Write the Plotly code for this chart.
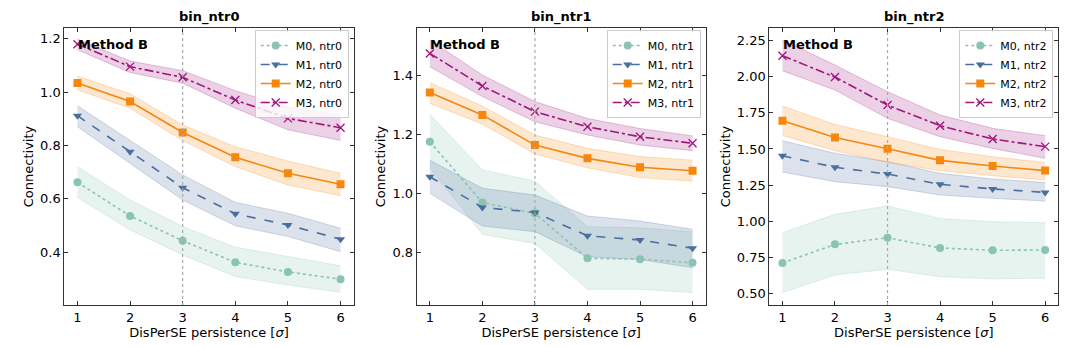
import plotly.graph_objects as go

x = [1, 2, 3, 4, 5, 6]
panels = ["bin_ntr0", "bin_ntr1", "bin_ntr2"]
ntr = ["ntr0", "ntr1", "ntr2"]
methods = ["M0", "M1", "M2", "M3"]

# panel 0
p0_mean = [
    [0.662, 0.536, 0.443, 0.362, 0.326, 0.299],
    [0.912, 0.777, 0.642, 0.544, 0.502, 0.449],
    [1.035, 0.965, 0.849, 0.756, 0.696, 0.655],
    [1.180, 1.096, 1.056, 0.971, 0.902, 0.867],
]
p0_hi = [
    [0.721, 0.596, 0.496, 0.419, 0.384, 0.349],
    [0.949, 0.821, 0.690, 0.587, 0.546, 0.490],
    [1.061, 0.994, 0.877, 0.796, 0.742, 0.696],
    [1.199, 1.117, 1.081, 1.006, 0.944, 0.915],
]
p0_lo = [
    [0.605, 0.484, 0.390, 0.309, 0.277, 0.250],
    [0.871, 0.734, 0.596, 0.499, 0.459, 0.402],
    [1.009, 0.940, 0.819, 0.721, 0.652, 0.612],
    [1.159, 1.074, 1.034, 0.940, 0.859, 0.819],
]
# panel 1
p1_mean = [
    [1.174, 0.969, 0.932, 0.780, 0.777, 0.765],
    [1.056, 0.952, 0.935, 0.856, 0.842, 0.814],
    [1.341, 1.265, 1.163, 1.118, 1.088, 1.076],
    [1.473, 1.363, 1.276, 1.225, 1.191, 1.169],
]
p1_hi = [
    [1.267, 1.079, 1.041, 0.887, 0.883, 0.870],
    [1.112, 1.017, 0.994, 0.923, 0.906, 0.878],
    [1.374, 1.295, 1.197, 1.152, 1.124, 1.112],
    [1.518, 1.400, 1.310, 1.253, 1.219, 1.194],
]
p1_lo = [
    [1.086, 0.861, 0.830, 0.675, 0.675, 0.664],
    [1.000, 0.889, 0.870, 0.785, 0.776, 0.748],
    [1.304, 1.234, 1.133, 1.086, 1.053, 1.041],
    [1.428, 1.327, 1.242, 1.197, 1.163, 1.144],
]
# panel 2
p2_mean = [
    [0.710, 0.839, 0.885, 0.814, 0.798, 0.800],
    [1.453, 1.373, 1.326, 1.255, 1.223, 1.199],
    [1.696, 1.580, 1.502, 1.421, 1.382, 1.350],
    [2.146, 1.998, 1.804, 1.661, 1.569, 1.516],
]
p2_hi = [
    [0.920, 1.047, 1.105, 1.019, 0.996, 0.989],
    [1.557, 1.470, 1.412, 1.331, 1.292, 1.267],
    [1.797, 1.670, 1.585, 1.497, 1.446, 1.407],
    [2.255, 2.081, 1.897, 1.735, 1.643, 1.592],
]
p2_lo = [
    [0.505, 0.627, 0.666, 0.615, 0.600, 0.605],
    [1.340, 1.273, 1.239, 1.181, 1.158, 1.139],
    [1.594, 1.488, 1.407, 1.350, 1.315, 1.285],
    [2.042, 1.908, 1.712, 1.585, 1.504, 1.435],
]

means = [p0_mean, p1_mean, p2_mean]
his = [p0_hi, p1_hi, p2_hi]
los = [p0_lo, p1_lo, p2_lo]

colors = ["#88c4b0", "#4a6e9e", "#f5870f", "#a0157c"]
fills = ["rgba(136,196,176,0.2)", "rgba(74,110,158,0.2)", "rgba(245,135,15,0.2)", "rgba(160,21,124,0.2)"]
edges = ["rgba(136,196,176,0.3)", "rgba(74,110,158,0.3)", "rgba(245,135,15,0.3)", "rgba(160,21,124,0.3)"]
dashes = ["dot", "dash", "solid", "dashdot"]
symbols = ["circle", "triangle-down", "square", "x-thin-open"]

yranges = [[0.202, 1.241], [0.622, 1.559], [0.419, 2.338]]
ytickvals = [[0.4, 0.6, 0.8, 1.0, 1.2], [0.8, 1.0, 1.2, 1.4],
             [0.5, 0.75, 1.0, 1.25, 1.5, 1.75, 2.0, 2.25]]
yticktext = [["0.4", "0.6", "0.8", "1.0", "1.2"], ["0.8", "1.0", "1.2", "1.4"],
             ["0.50", "0.75", "1.00", "1.25", "1.50", "1.75", "2.00", "2.25"]]

W, H, OFF = 1080, 347, 8  # page body margin offset


def fx(px):
    return (px - OFF) / W


def fy(py):
    return 1 - (py - OFF) / H


xpx = [[64.3, 353.7], [416.7, 705.7], [769.3, 1058.3]]
xdomains = [[fx(a), fx(b)] for a, b in xpx]
ydomain = [fy(305), fy(28)]

FONT = "DejaVu Sans"
fig = go.Figure()

for p in range(3):
    xa = "x" if p == 0 else f"x{p+1}"
    ya = "y" if p == 0 else f"y{p+1}"
    leg = "legend" if p == 0 else f"legend{p+1}"
    for m in range(4):
        fig.add_trace(go.Scatter(x=x, y=los[p][m], xaxis=xa, yaxis=ya, mode="lines",
                                 line=dict(color=edges[m], width=0.8), showlegend=False,
                                 hoverinfo="skip"))
        fig.add_trace(go.Scatter(x=x, y=his[p][m], xaxis=xa, yaxis=ya, mode="lines",
                                 line=dict(color=edges[m], width=0.8), fill="tonexty",
                                 fillcolor=fills[m], showlegend=False, hoverinfo="skip"))
    for m in range(4):
        mk = dict(symbol=symbols[m], size=8, color=colors[m])
        if symbols[m] == "x-thin-open":
            mk = dict(symbol=symbols[m], size=8, color=colors[m],
                      line=dict(color=colors[m], width=1.3))
        fig.add_trace(go.Scatter(x=x, y=means[p][m], xaxis=xa, yaxis=ya, mode="lines+markers",
                                 name=f"{methods[m]}, {ntr[p]}", legend=leg,
                                 line=dict(color=colors[m], width=1.6, dash=dashes[m]),
                                 marker=mk))

layout = dict(width=W, height=H, margin=dict(l=0, r=0, t=0, b=0),
              template="none",
              plot_bgcolor="white", paper_bgcolor="white",
              font=dict(family=FONT, size=13, color="black"))

shapes = []
annotations = []
for p in range(3):
    sfx = "" if p == 0 else str(p + 1)
    layout["xaxis" + sfx] = dict(
        domain=xdomains[p], range=[0.75, 6.25], anchor="y" + sfx, automargin=False,
        tickvals=[1, 2, 3, 4, 5, 6], ticks="inside", ticklen=4, tickcolor="#333",
        showline=True, linecolor="#333", linewidth=1, mirror="ticks", showgrid=False,
        zeroline=False, tickfont=dict(size=13),
        title=dict(text="DisPerSE persistence [<i>σ</i>]", font=dict(size=13), standoff=2))
    layout["yaxis" + sfx] = dict(
        domain=ydomain, range=yranges[p], anchor="x" + sfx, automargin=False,
        tickvals=ytickvals[p], ticktext=yticktext[p], ticks="inside", ticklen=4,
        tickcolor="#333", showline=True, linecolor="#333", linewidth=1, mirror="ticks",
        showgrid=False, zeroline=False, tickfont=dict(size=13),
        title=dict(text="Connectivity", font=dict(size=13), standoff=3))
    leg = "legend" if p == 0 else f"legend{p+1}"
    layout[leg] = dict(x=fx(xpx[p][1] - 5), y=fy(30),
                       xanchor="right", yanchor="top", bgcolor="rgba(255,255,255,0.8)",
                       bordercolor="#cccccc", borderwidth=1, traceorder="normal",
                       font=dict(size=11), tracegroupgap=0, itemwidth=30)
    shapes.append(dict(type="line", xref="x" + sfx, yref="y" + sfx + " domain",
                       x0=3, x1=3, y0=0, y1=1,
                       line=dict(color="#aaaaaa", width=1.2, dash="dot")))
    annotations.append(dict(text="<b>Method B</b>", xref="x" + sfx + " domain",
                            yref="y" + sfx + " domain", x=0.04, y=0.975,
                            xanchor="left", yanchor="top", showarrow=False,
                            font=dict(size=13, color="black")))
    annotations.append(dict(text="<b>" + panels[p] + "</b>", xref="paper", yref="paper",
                            x=(xdomains[p][0] + xdomains[p][1]) / 2, y=fy(17),
                            xanchor="center", yanchor="middle", showarrow=False,
                            font=dict(size=13, color="black")))

layout["shapes"] = shapes
layout["annotations"] = annotations
fig.update_layout(**layout)
fig.write_html("out.html")
